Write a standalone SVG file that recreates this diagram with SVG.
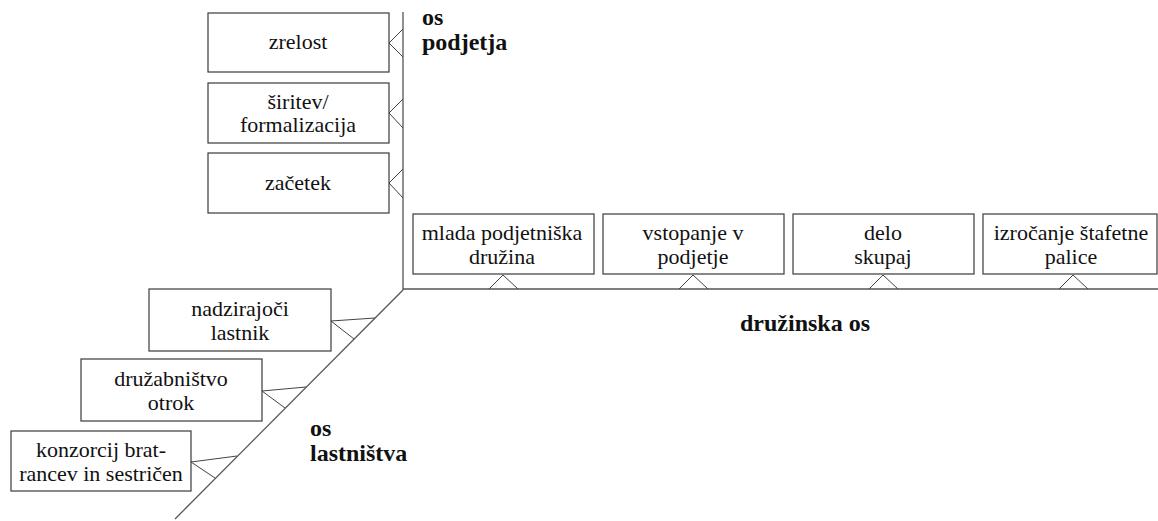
<svg xmlns="http://www.w3.org/2000/svg" width="1158" height="521" viewBox="0 0 1158 521">
  <style>
    .box { fill: #ffffff; stroke: #3a3a3a; stroke-width: 1.2; }
    .axis { fill: none; stroke: #555555; stroke-width: 1.3; }
    .tick { fill: none; stroke: #444444; stroke-width: 1; }
    .lbl { font-family: "Liberation Serif", "Times New Roman", serif; font-size: 22px; fill: #111111; text-anchor: middle; }
    .ax { font-family: "Liberation Serif", "Times New Roman", serif; font-size: 24px; font-weight: bold; fill: #111111; }
  </style>
  <rect width="1158" height="521" fill="#ffffff"/>

  <!-- axes and the small connector wedges -->
  <g id="connectors">
    <line class="axis" x1="403" y1="12" x2="403" y2="290"/>
    <line class="axis" x1="403" y1="289" x2="1158" y2="289"/>
    <line class="axis" x1="403" y1="290" x2="175" y2="519"/>
    <!-- vertical axis wedges -->
    <polyline class="tick" points="403,29 389,43 403,57"/>
    <polyline class="tick" points="403,99 389,113 403,128"/>
    <polyline class="tick" points="403,169 389,183 403,198"/>
    <!-- horizontal axis wedges -->
    <polyline class="tick" points="489,289 503,275 518,289"/>
    <polyline class="tick" points="679,289 693,275 708,289"/>
    <polyline class="tick" points="869,289 883,275 898,289"/>
    <polyline class="tick" points="1059,289 1073,275 1088,289"/>
    <!-- diagonal axis wedges -->
    <polyline class="tick" points="375,318 331,321 354,339"/>
    <polyline class="tick" points="306,387 262,391 285,408"/>
    <polyline class="tick" points="237,456 191,462 215,478"/>
  </g>

  <!-- os podjetja -->
  <g id="zrelost">
    <rect class="box" x="208" y="13" width="181" height="59"/>
    <text class="lbl" x="298" y="49">zrelost</text>
  </g>
  <g id="siritev">
    <rect class="box" x="208" y="83" width="181" height="60"/>
    <text class="lbl" x="298" y="109">širitev/</text>
    <text class="lbl" x="298" y="132">formalizacija</text>
  </g>
  <g id="zacetek">
    <rect class="box" x="208" y="153" width="181" height="60"/>
    <text class="lbl" x="298" y="190">začetek</text>
  </g>

  <!-- družinska os -->
  <g id="mlada">
    <rect class="box" x="413" y="214" width="181" height="60"/>
    <text class="lbl" x="502" y="240">mlada podjetniška</text>
    <text class="lbl" x="502" y="264">družina</text>
  </g>
  <g id="vstopanje">
    <rect class="box" x="603" y="214" width="181" height="60"/>
    <text class="lbl" x="693" y="240">vstopanje v</text>
    <text class="lbl" x="693" y="264">podjetje</text>
  </g>
  <g id="delo">
    <rect class="box" x="793" y="214" width="181" height="60"/>
    <text class="lbl" x="883" y="240">delo</text>
    <text class="lbl" x="883" y="264">skupaj</text>
  </g>
  <g id="izrocanje">
    <rect class="box" x="983" y="214" width="174" height="60"/>
    <text class="lbl" x="1071" y="240">izročanje štafetne</text>
    <text class="lbl" x="1071" y="264">palice</text>
  </g>

  <!-- os lastništva -->
  <g id="nadzirajoci">
    <rect class="box" x="149" y="289" width="182" height="62"/>
    <text class="lbl" x="240" y="316">nadzirajoči</text>
    <text class="lbl" x="240" y="340">lastnik</text>
  </g>
  <g id="druzabnistvo">
    <rect class="box" x="81" y="359" width="181" height="62"/>
    <text class="lbl" x="171" y="386">družabništvo</text>
    <text class="lbl" x="171" y="410">otrok</text>
  </g>
  <g id="konzorcij">
    <rect class="box" x="11" y="431" width="180" height="60"/>
    <text class="lbl" x="101" y="457">konzorcij brat-</text>
    <text class="lbl" x="101" y="481">rancev in sestričen</text>
  </g>

  <!-- axis titles -->
  <g id="axis-labels">
    <text class="ax" x="422" y="25">os</text>
    <text class="ax" x="422" y="50">podjetja</text>
    <text class="ax" x="740" y="331">družinska os</text>
    <text class="ax" x="310" y="436">os</text>
    <text class="ax" x="310" y="461">lastništva</text>
  </g>
</svg>
